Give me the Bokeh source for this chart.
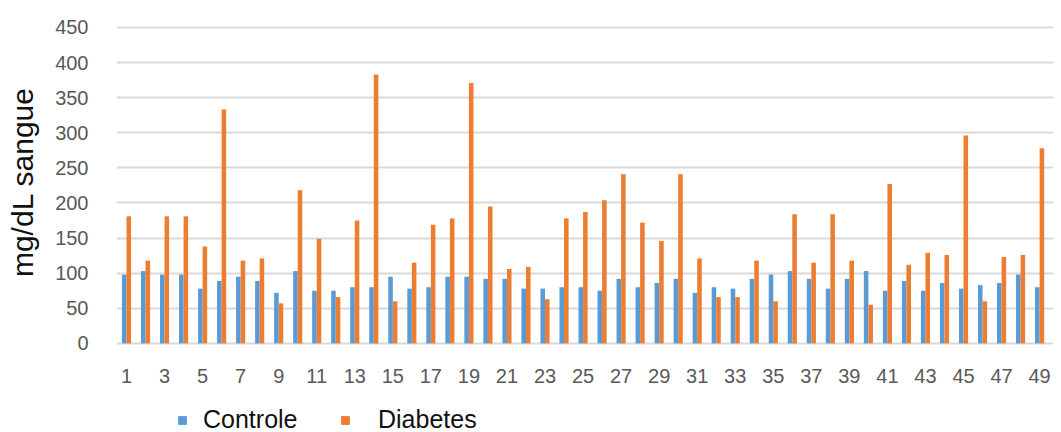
from bokeh.plotting import figure
from bokeh.models import ColumnDataSource, Range1d, FixedTicker, Legend, LegendItem
from bokeh.layouts import column
from bokeh.transform import dodge
from bokeh.embed import file_html
from bokeh.resources import INLINE

categories = list(range(1, 50))
controle = [98, 103, 98, 98, 78, 89, 95, 89, 72, 103,
            75, 75, 80, 80, 95, 78, 80, 95, 95, 92,
            92, 78, 78, 80, 80, 75, 92, 80, 86, 92,
            72, 80, 78, 92, 98, 103, 92, 78, 92, 103,
            75, 89, 75, 86, 78, 83, 86, 98, 80]
diabetes = [181, 118, 181, 181, 138, 333, 118, 121, 57, 218,
            149, 66, 175, 383, 60, 115, 169, 178, 371, 195,
            106, 109, 63, 178, 187, 204, 241, 172, 146, 241,
            121, 66, 66, 118, 60, 184, 115, 184, 118, 55,
            227, 112, 129, 126, 296, 60, 123, 126, 278]
y_ticks = list(range(0, 451, 50))
x_ticks = list(range(1, 50, 2))
series_names = ["Controle", "Diabetes"]
colors = ["#5B9BD5", "#ED7D31"]

src = ColumnDataSource(dict(cat=categories, controle=controle, diabetes=diabetes))

p = figure(width=1061, height=392, x_range=Range1d(0.474, 49.73),
           y_range=Range1d(-3, 462.8), output_backend="svg",
           toolbar_location=None, min_border_left=116, min_border_right=8,
           min_border_top=18, min_border_bottom=47)
p.outline_line_color = None
p.background_fill_color = "white"
p.border_fill_color = "white"

r1 = p.vbar(x=dodge("cat", -0.12), top="controle", bottom=0, width=0.24,
            source=src, fill_color=colors[0], line_color=None)
r2 = p.vbar(x=dodge("cat", 0.12), top="diabetes", bottom=0, width=0.24,
            source=src, fill_color=colors[1], line_color=None)
r1.level = "overlay"
r2.level = "overlay"

p.xgrid.visible = False
p.ygrid.grid_line_color = "#D9D9D9"
p.ygrid.grid_line_width = 2
p.ygrid.level = "underlay"

p.yaxis.ticker = FixedTicker(ticks=y_ticks)
p.yaxis.axis_line_color = None
p.yaxis.major_tick_line_color = None
p.yaxis.minor_tick_line_color = None
p.yaxis.major_label_text_color = "#595959"
p.yaxis.major_label_text_font = "Liberation Sans"
p.yaxis.major_label_text_font_size = "20px"
p.yaxis.major_label_standoff = 22
p.yaxis.axis_label = "mg/dL sangue"
p.yaxis.axis_label_text_font = "Liberation Sans"
p.yaxis.axis_label_text_font_size = "30px"
p.yaxis.axis_label_text_font_style = "normal"
p.yaxis.axis_label_text_color = "#111111"
p.yaxis.axis_label_standoff = 13

p.xaxis.ticker = FixedTicker(ticks=x_ticks)
p.xaxis.major_label_overrides = {t: str(t) for t in x_ticks}
p.xaxis.axis_line_color = None
p.xaxis.major_tick_line_color = None
p.xaxis.minor_tick_line_color = None
p.xaxis.major_label_text_color = "#595959"
p.xaxis.major_label_text_font = "Liberation Sans"
p.xaxis.major_label_text_font_size = "20px"
p.xaxis.major_label_standoff = 17

# legend strip below the chart (its frame is aligned with the chart frame)
p2 = figure(width=1061, height=40, x_range=Range1d(0, 1), y_range=Range1d(0, 1),
            output_backend="svg", toolbar_location=None, min_border=0)
p2.axis.visible = False
p2.grid.visible = False
p2.outline_line_color = None
d1 = p2.scatter(x=[5], y=[5], marker="square", size=9, fill_color=colors[0], line_color=None)
d2 = p2.scatter(x=[5], y=[5], marker="square", size=9, fill_color=colors[1], line_color=None)

for r, name, loc, standoff in [(d1, series_names[0], (55, -2), 10),
                               (d2, series_names[1], (218, -2), 22)]:
    lg = Legend(items=[LegendItem(label=name, renderers=[r])], location=loc,
                orientation="horizontal", padding=0, margin=0,
                border_line_color=None, background_fill_alpha=0,
                glyph_width=22, glyph_height=22, label_standoff=standoff,
                label_text_font="Liberation Sans", label_text_font_size="25px",
                label_text_color="#111111")
    p2.add_layout(lg, "center")

open("out.html", "w").write(file_html(column(p, p2, spacing=0), INLINE))
